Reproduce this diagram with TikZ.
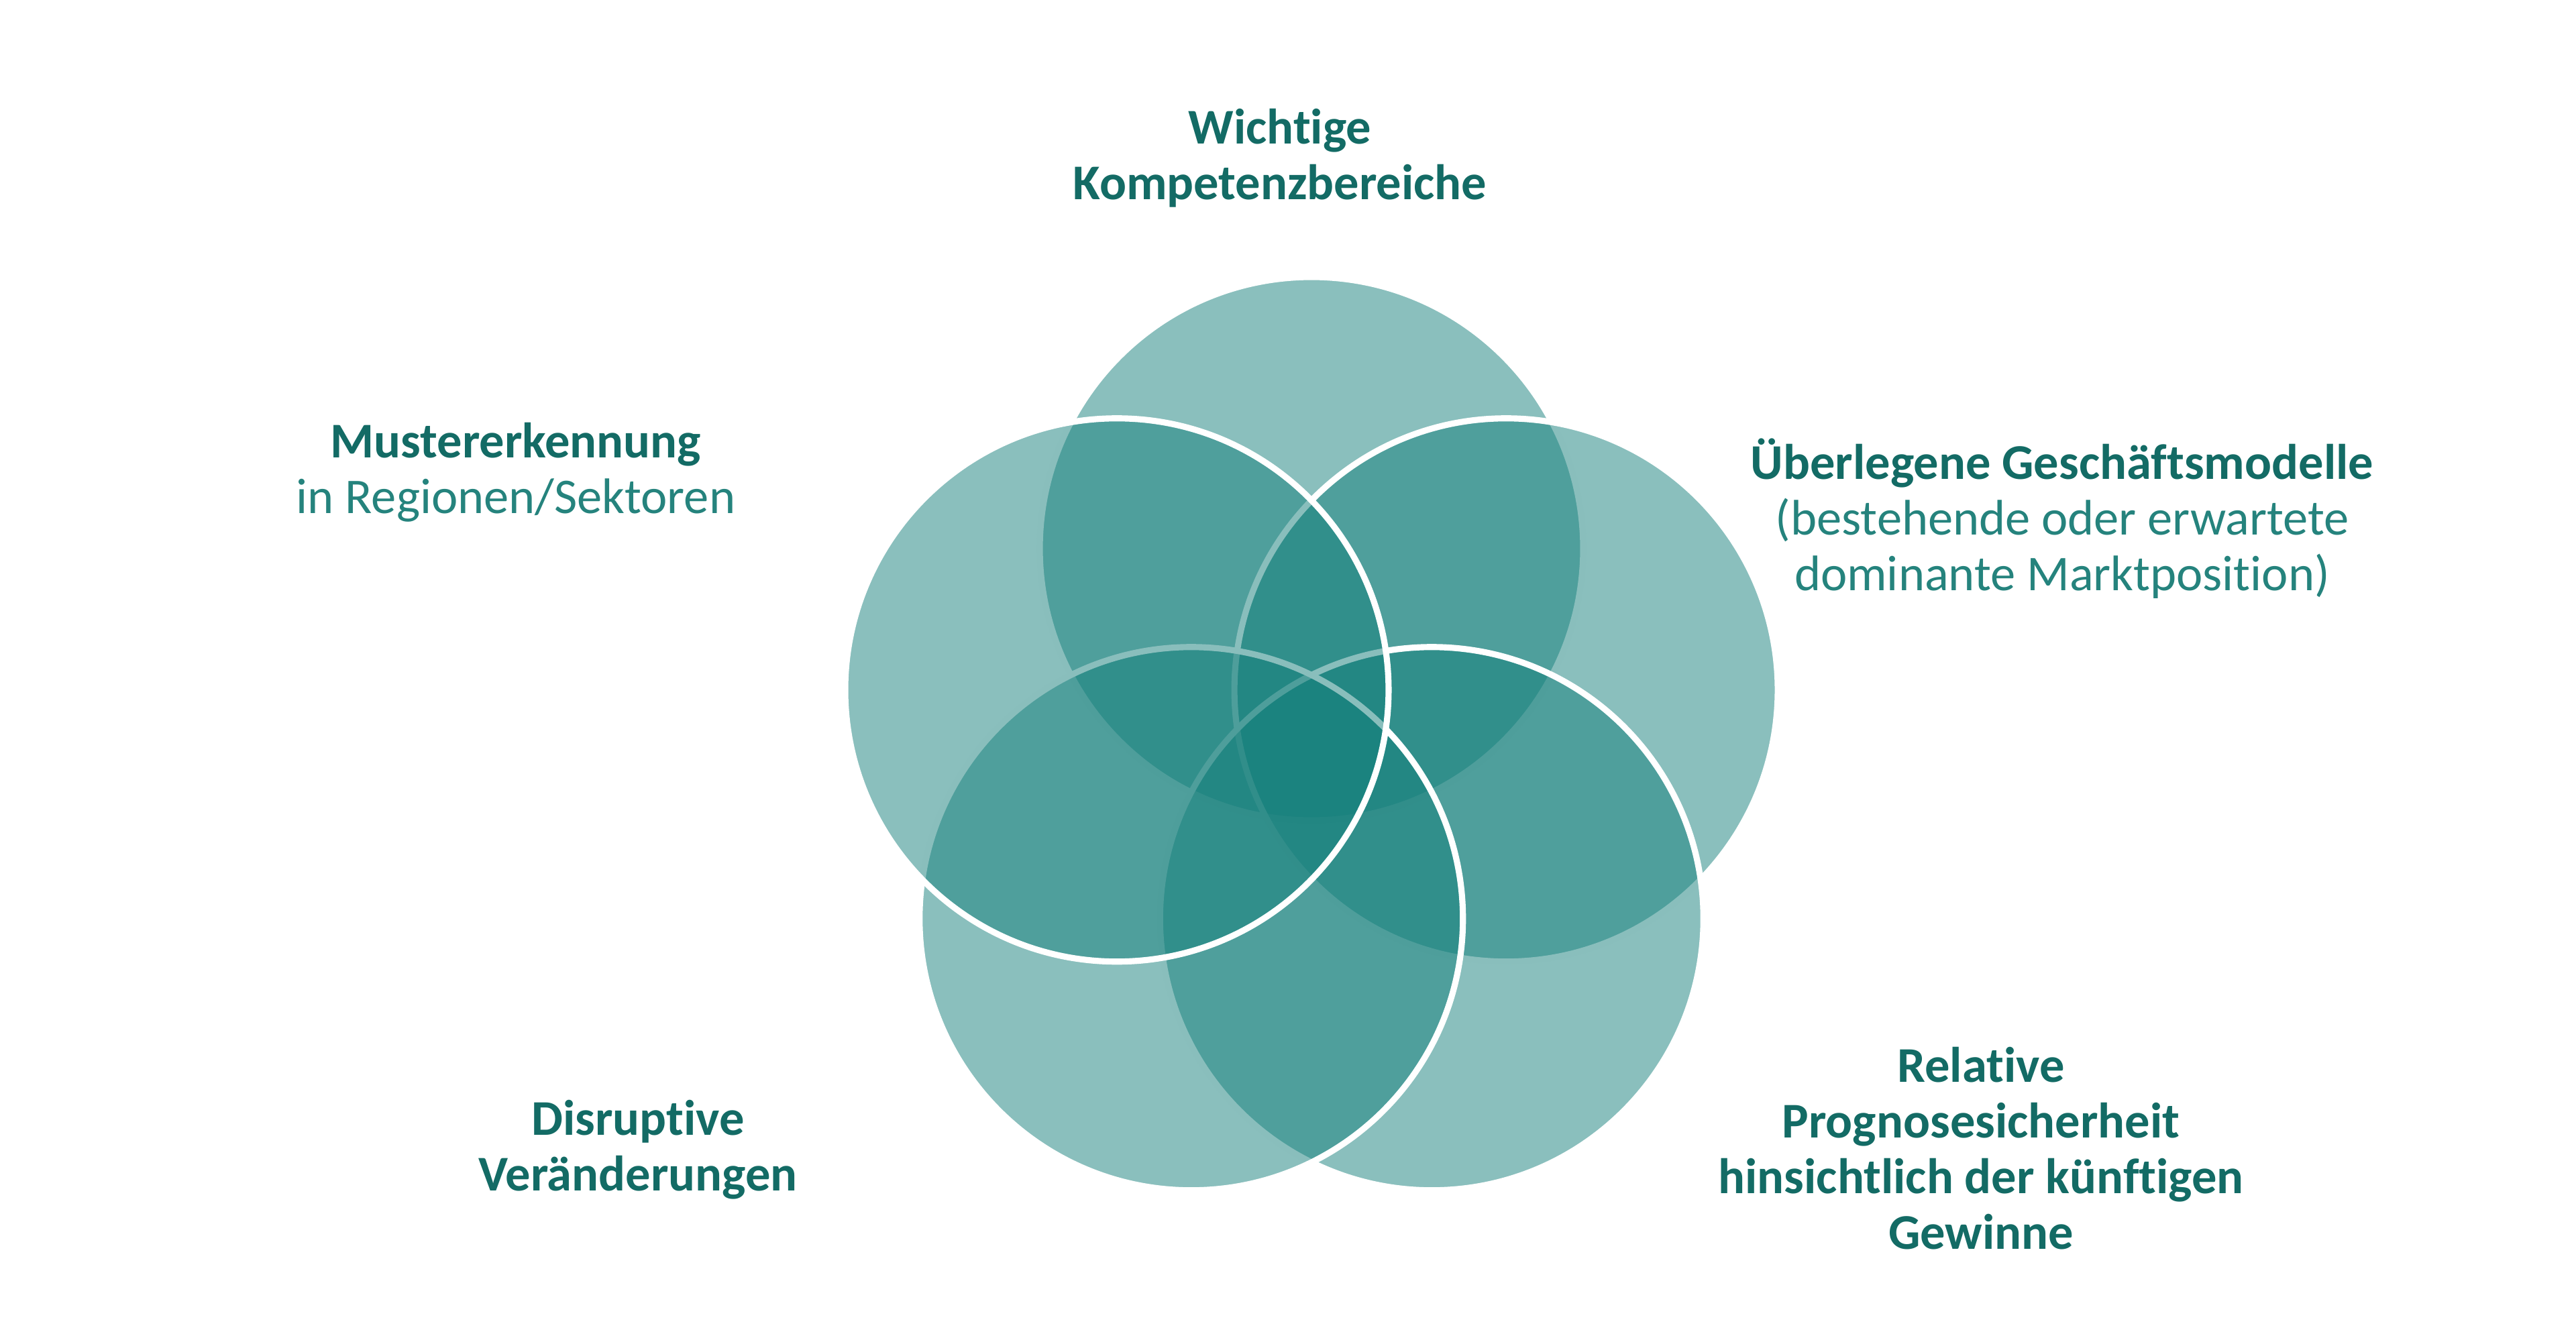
\documentclass[tikz,border=0pt]{standalone}
\usepackage{fontspec}
\setmainfont{Carlito}[Ligatures=CommonOff]
\usepackage{tikz}
\definecolor{petalteal}{HTML}{157F7B}
\definecolor{headteal}{HTML}{136B65}
\definecolor{bodyteal}{HTML}{25837D}
\tikzset{petal/.style={circle, draw=white, line width=2.6pt, fill=petalteal, fill opacity=0.5, minimum size=8.1cm, inner sep=0pt}}
\tikzset{lbl/.style={align=center, inner sep=0pt, font=\fontsize{21.2}{23.6}\selectfont}}
\newcommand{\head}[1]{\textcolor{headteal}{\bfseries #1}}
\newcommand{\body}[1]{\textcolor{bodyteal}{#1}}

\begin{document}
\begin{tikzpicture}
    \useasboundingbox (0,0) rectangle (38.4,19.88);
    \coordinate (mid) at (19.55,8.65);
    \foreach \a/\n in {90/top,18/right,-54/lowright,-126/lowleft,162/left} {
      \node [petal] (\n) at ([shift={(\a:3.05)}]mid) {};
    }

    \node [lbl] (komp) at (19.08,17.52) {\head{Wichtige}\\\head{Kompetenzbereiche}};
    \node [lbl] (muster) at (7.69,12.84) {\head{Mustererkennung}\\\body{in Regionen/Sektoren}};
    \node [lbl] (modell) at (30.74,12.15) {\head{Überlegene Geschäftsmodelle}\\\body{(bestehende oder erwartete}\\\body{dominante Marktposition)}};
    \node [lbl] (prog) at (29.53,2.76) {\head{Relative}\\\head{Prognosesicherheit}\\\head{hinsichtlich der künftigen}\\\head{Gewinne}};
    \node [lbl] (disr) at (9.51,2.74) {\head{Disruptive}\\\head{Veränderungen}};
  \end{tikzpicture}
\end{document}
